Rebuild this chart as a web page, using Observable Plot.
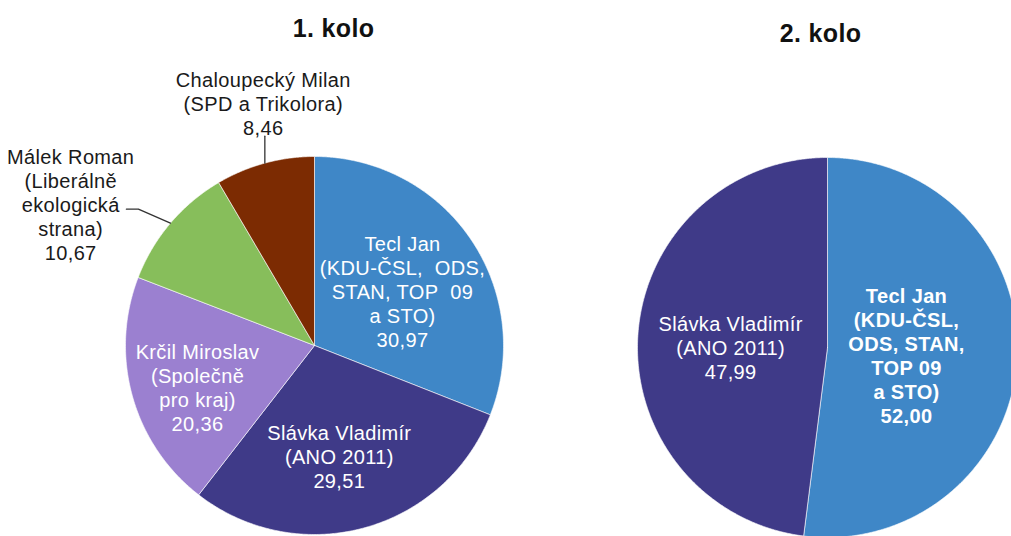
<!DOCTYPE html>
<html><head><meta charset="utf-8">
<script src="https://cdn.jsdelivr.net/npm/d3@7"></script>
<script src="https://cdn.jsdelivr.net/npm/@observablehq/plot@0.6"></script>
<style>html,body{margin:0;padding:0;background:#fff;overflow:hidden}</style>
</head><body><div id="chart"></div>
<script>
// ---- data ----
const roundTitles = ["1. kolo", "2. kolo"];
const round1Candidates = ["Tecl Jan", "Slávka Vladimír", "Krčil Miroslav", "Málek Roman", "Chaloupecký Milan"];
const round1Labels = [
  "Tecl Jan\n(KDU-ČSL,\u00a0 ODS,\nSTAN, TOP\u00a0 09\na STO)",
  "Slávka Vladimír\n(ANO 2011)",
  "Krčil Miroslav\n(Společně\npro kraj)",
  "Málek Roman\n(Liberálně\nekologická\nstrana)",
  "Chaloupecký Milan\n(SPD a Trikolora)"
];
const round1Values = [30.97, 29.51, 20.36, 10.67, 8.46];
const round2Candidates = ["Tecl Jan", "Slávka Vladimír"];
const round2Labels = [
  "Tecl Jan\n(KDU-ČSL,\nODS, STAN,\nTOP 09\na STO)",
  "Slávka Vladimír\n(ANO 2011)"
];
const round2Values = [52.00, 47.99];

// ---- style ----
const candidateColors = {
  "Tecl Jan": "#3f87c7",
  "Slávka Vladimír": "#3f3a88",
  "Krčil Miroslav": "#9b80d0",
  "Málek Roman": "#87be5b",
  "Chaloupecký Milan": "#7c2b02"
};
const W = 1011, H = 536, FS = 20, LH = 1.2;
const pies = [
  {title: roundTitles[0], cx: 314, cy: 345, r: 189, titleX: 333, titleBaseline: 36,
   candidates: round1Candidates, labels: round1Labels, values: round1Values,
   labelPos: [[1.75, 0.552], [2.5, 0.59], [-3.3, 0.654], [-9.9, 1.496], [3.4, 1.323]],
   inside: [true, true, true, false, false],
   bold: [false, false, false, false, false],
   leaders: [null, null, null, [[0, 0], [-32, -14], [-44, -14]], [[0, 0], [0, -27]]]},
  {title: roundTitles[1], cx: 827, cy: 347, r: 190, titleX: 820, titleBaseline: 41,
   candidates: round2Candidates, labels: round2Labels, values: round2Values,
   labelPos: [[0.7, 0.417], [-2.4, 0.51]],
   inside: [true, true],
   bold: [true, false],
   leaders: [null, null]}
];

const fmt = v => v.toFixed(2).replace(".", ",");
const marks = [];
for (const p of pies) {
  const arcs = d3.pie().sort(null).value(d => d)(p.values);
  arcs.forEach((a, i) => {
    const pts = [[p.cx, p.cy]];
    const n = Math.max(2, Math.ceil((a.endAngle - a.startAngle) / (Math.PI / 360)));
    for (let k = 0; k <= n; k++) {
      const t = a.startAngle + (a.endAngle - a.startAngle) * k / n;
      pts.push([p.cx + p.r * Math.sin(t), p.cy - p.r * Math.cos(t)]);
    }
    pts.push([p.cx, p.cy]);
    marks.push(Plot.line(pts, {x: d => d[0], y: d => d[1], fill: candidateColors[p.candidates[i]],
      stroke: "#ffffff", strokeOpacity: 0.6, strokeWidth: 1}));
  });
  arcs.forEach((a, i) => {
    const mid = (a.startAngle + a.endAngle) / 2;
    const [nudge, frac] = p.labelPos[i];
    const ang = mid + nudge * Math.PI / 180;
    const lx = p.cx + frac * p.r * Math.sin(ang);
    const ly = p.cy - frac * p.r * Math.cos(ang);
    const text = p.labels[i] + "\n" + fmt(p.values[i]);
    const nl = text.split("\n").length;
    const top = ly - 7.2 - (nl - 1) * FS * LH / 2;
    marks.push(Plot.text([{x: lx, y: top, t: text}], {x: "x", y: "y", text: "t", lineAnchor: "top",
      lineHeight: LH, fontSize: FS, fontWeight: p.bold[i] ? "bold" : "normal",
      fill: p.inside[i] ? "#ffffff" : "#1a1a1a"}));
    if (p.leaders[i]) {
      const ex = p.cx + p.r * Math.sin(mid), ey = p.cy - p.r * Math.cos(mid);
      const lpts = p.leaders[i].map(([dx, dy]) => [ex + dx, ey + dy]);
      marks.push(Plot.line(lpts, {x: d => d[0], y: d => d[1], stroke: "#333333", strokeWidth: 1.3}));
    }
  });
  marks.push(Plot.text([{x: p.titleX, y: p.titleBaseline - 0.71 * 25, t: p.title}],
    {x: "x", y: "y", text: "t", lineAnchor: "top", fontSize: 25, fontWeight: "bold", fill: "#111111"}));
}

const chart = Plot.plot({
  width: W, height: H,
  marginTop: 0, marginRight: 0, marginBottom: 0, marginLeft: 0,
  x: {domain: [0, W], range: [0, W], axis: null},
  y: {domain: [0, H], range: [0, H], axis: null},
  style: {fontFamily: "'Liberation Sans', Arial, sans-serif", background: "#ffffff", overflow: "hidden", letterSpacing: "0.35px"},
  marks
});
document.getElementById("chart").appendChild(chart);
</script>
</body></html>
